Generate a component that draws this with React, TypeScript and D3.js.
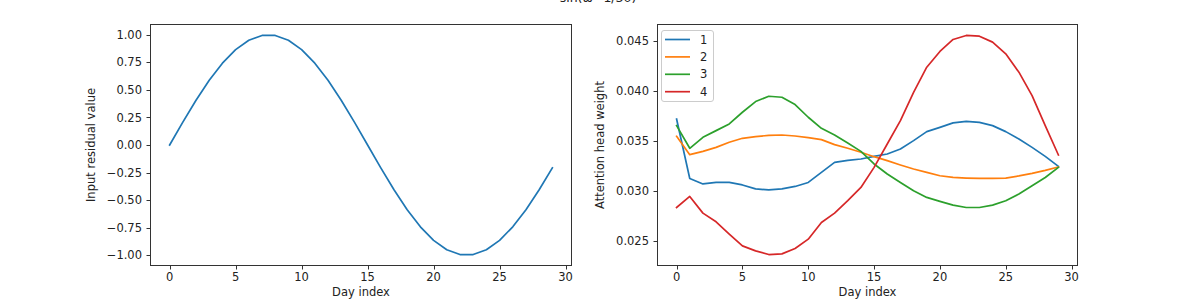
import React, { useEffect, useRef } from 'react';
import * as d3 from 'd3';

// day index 0..29
const days = d3.range(30);

// left panel: input residual
const residual = [
  0.0, 0.208, 0.407, 0.588, 0.743, 0.866, 0.951, 0.995, 0.995, 0.951,
  0.866, 0.743, 0.588, 0.407, 0.208, 0.0, -0.208, -0.407, -0.588, -0.743,
  -0.866, -0.951, -0.995, -0.995, -0.951, -0.866, -0.743, -0.588, -0.407, -0.208,
];

// right panel: attention head weights
const head1 = [
  0.0372, 0.03125, 0.0307, 0.03085, 0.03085, 0.0306, 0.0302, 0.0301, 0.0302, 0.03045,
  0.03085, 0.03186, 0.03286, 0.03306, 0.0332, 0.03346, 0.0337, 0.0342, 0.03504, 0.03594,
  0.03637, 0.03681, 0.03697, 0.03687, 0.03654, 0.03594, 0.0352, 0.03436, 0.03346, 0.03246,
];
const head2 = [
  0.03547, 0.03363, 0.03396, 0.03436, 0.03487, 0.03527, 0.03544, 0.03557, 0.0356, 0.0355,
  0.03534, 0.03514, 0.03464, 0.03427, 0.03387, 0.03343, 0.03303, 0.0326, 0.0322, 0.03186,
  0.03152, 0.03135, 0.03129, 0.03125, 0.03125, 0.03129, 0.0315, 0.03176, 0.03206, 0.0324,
];
const head3 = [
  0.03654, 0.03427, 0.03537, 0.03604, 0.03671, 0.03788, 0.03895, 0.03948, 0.03938, 0.03865,
  0.03738, 0.03627, 0.0356, 0.0348, 0.03396, 0.0327, 0.0317, 0.03085, 0.03002, 0.02935,
  0.02895, 0.02858, 0.02834, 0.02834, 0.02858, 0.02902, 0.02969, 0.03052, 0.03135, 0.03236,
];
const head4 = [
  0.02834, 0.02945, 0.02778, 0.02691, 0.02568, 0.0245, 0.024, 0.02363, 0.0237, 0.02423,
  0.02517, 0.02684, 0.02778, 0.02902, 0.03035, 0.03236, 0.0347, 0.03704, 0.03988, 0.04239,
  0.04397, 0.04517, 0.04557, 0.0455, 0.0449, 0.04373, 0.04189, 0.03955, 0.03654, 0.0336,
];

const headNames = ['1', '2', '3', '4'];
const headColors = ['#1f77b4', '#ff7f0e', '#2ca02c', '#d62728'];
const xTicks = [0, 5, 10, 15, 20, 25, 30];
const leftYTicks = [-1, -0.75, -0.5, -0.25, 0, 0.25, 0.5, 0.75, 1];
const rightYTicks = [0.025, 0.03, 0.035, 0.04, 0.045];

const FONT = 'DejaVu Sans, sans-serif';
const FS = 11.5;
const TXT = '#222';

// matplotlib-like 5% padding
function padded(vals: number[]): [number, number] {
  const [lo, hi] = d3.extent(vals) as [number, number];
  const m = (hi - lo) * 0.05;
  return [lo - m, hi + m];
}

function App() {
  const ref = useRef<SVGSVGElement>(null);

  useEffect(() => {
    document.body.style.margin = '0';
    const svg = d3.select(ref.current);
    svg.selectAll('*').remove();

    const top = 24.5, bottom = 265.5;

    const drawPanel = (
      left: number,
      right: number,
      yDomain: [number, number],
      yTicks: number[],
      fmt: (n: number) => string,
      ylabel: string,
      ylabelX: number,
      series: number[][],
      colors: string[],
    ) => {
      const x = d3.scaleLinear().domain(padded(days)).range([left, right]);
      const y = d3.scaleLinear().domain(yDomain).range([bottom, top]);
      const g = svg.append('g');

      const line = d3.line<number>()
        .x((_, i) => x(days[i]))
        .y((d) => y(d));

      series.forEach((s, k) => {
        g.append('path')
          .datum(s)
          .attr('fill', 'none')
          .attr('stroke', colors[k])
          .attr('stroke-width', 1.7)
          .attr('stroke-linejoin', 'round')
          .attr('stroke-linecap', 'square')
          .attr('d', line);
      });

      // frame
      g.append('rect')
        .attr('x', left).attr('y', top)
        .attr('width', right - left).attr('height', bottom - top)
        .attr('fill', 'none').attr('stroke', '#333').attr('stroke-width', 1);

      // x ticks
      xTicks.forEach((t) => {
        const px = Math.round(x(t)) + 0.5;
        g.append('line')
          .attr('x1', px).attr('x2', px)
          .attr('y1', bottom).attr('y2', bottom + 4)
          .attr('stroke', '#333');
        g.append('text')
          .attr('x', x(t)).attr('y', 281)
          .attr('text-anchor', 'middle')
          .attr('font-family', FONT).attr('font-size', FS).attr('fill', TXT)
          .text(String(t));
      });

      // y ticks
      yTicks.forEach((t) => {
        const py = Math.round(y(t)) + 0.5;
        g.append('line')
          .attr('x1', left - 4).attr('x2', left)
          .attr('y1', py).attr('y2', py)
          .attr('stroke', '#333');
        g.append('text')
          .attr('x', left - 8.5).attr('y', y(t))
          .attr('dy', '0.35em')
          .attr('text-anchor', 'end')
          .attr('font-family', FONT).attr('font-size', FS).attr('fill', TXT)
          .text(fmt(t));
      });

      g.append('text')
        .attr('x', (left + right) / 2).attr('y', 296)
        .attr('text-anchor', 'middle')
        .attr('font-family', FONT).attr('font-size', FS).attr('fill', TXT)
        .text('Day index');

      g.append('text')
        .attr('transform', `translate(${ylabelX},${(top + bottom) / 2}) rotate(-90)`)
        .attr('text-anchor', 'middle')
        .attr('font-family', FONT).attr('font-size', FS).attr('fill', TXT)
        .text(ylabel);

      return g;
    };

    drawPanel(150.5, 571.5, padded(residual), leftYTicks, d3.format('.2f'),
      'Input residual value', 95, [residual], ['#1f77b4']);

    const heads = [head1, head2, head3, head4];
    const right = drawPanel(657.5, 1077.5, padded(heads.flat()), rightYTicks, d3.format('.3f'),
      'Attention head weight', 604, heads, headColors);

    // legend
    const leg = right.append('g');
    leg.append('rect')
      .attr('x', 661.5).attr('y', 30.5).attr('width', 52).attr('height', 71)
      .attr('rx', 2.5)
      .attr('fill', 'white').attr('fill-opacity', 0.8)
      .attr('stroke', '#ccc');
    headNames.forEach((name, k) => {
      const ly = 39.5 + k * 17.4;
      leg.append('line')
        .attr('x1', 665).attr('x2', 690).attr('y1', ly).attr('y2', ly)
        .attr('stroke', headColors[k]).attr('stroke-width', 1.7);
      leg.append('text')
        .attr('x', 700).attr('y', ly).attr('dy', '0.35em')
        .attr('font-family', FONT).attr('font-size', FS).attr('fill', TXT)
        .text(name);
    });

    // suptitle, cut off at the top edge
    svg.append('text')
      .attr('x', 598).attr('y', 1.5)
      .attr('text-anchor', 'middle')
      .attr('font-family', FONT).attr('font-size', 12.5).attr('fill', TXT)
      .text('sin(ω=1/30)');
  }, []);

  return (
    <div>
      <svg ref={ref} width={1196} height={305} style={{ display: 'block', background: 'white' }} />
    </div>
  );
}

export default App;
